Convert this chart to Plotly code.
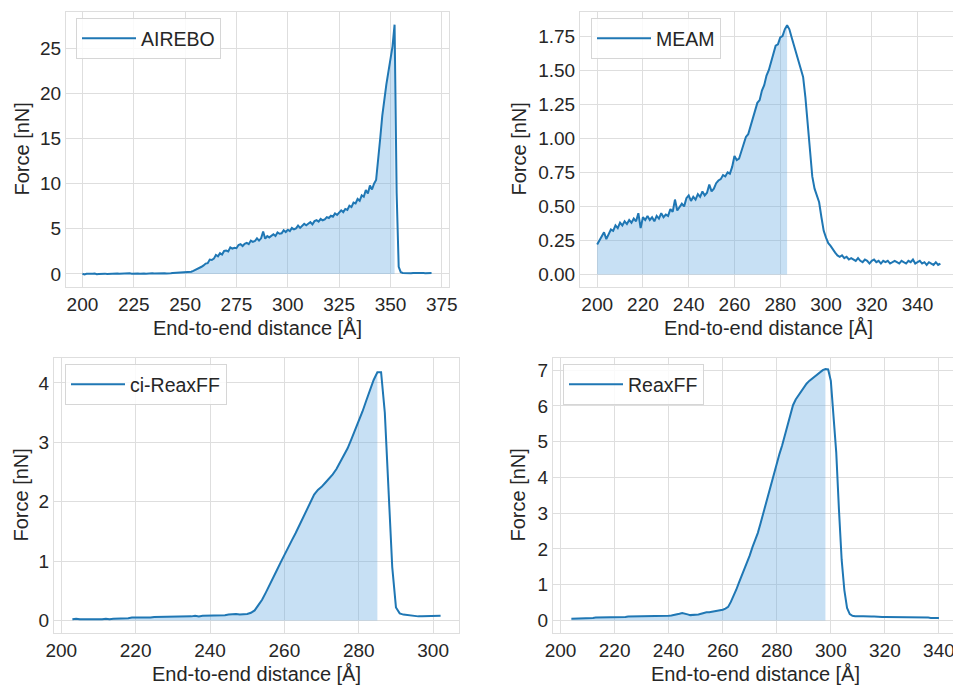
import numpy as np
import plotly.graph_objects as go

# ---------------- data (force in nN, one sample per Å) ----------------
AIREBO_X0 = 200
AIREBO_F = [
    0.02, -0.05, 0.03, 0.00, -0.03, 0.02, 0.05, -0.02, 0.01, 0.03,   # 200
    -0.01, 0.04, 0.00, 0.02, 0.05, 0.01, 0.03, 0.06, 0.02, 0.04,     # 210
    0.01, 0.05, 0.03, 0.07, 0.02, 0.05, 0.04, 0.06, 0.03, 0.08,      # 220
    0.05, 0.04, 0.07, 0.05, 0.09, 0.06, 0.08, 0.05, 0.10, 0.07,      # 230
    0.09, 0.06, 0.11, 0.08, 0.10, 0.12, 0.09, 0.13, 0.11, 0.14,      # 240
    0.15, 0.18, 0.22, 0.25, 0.35, 0.45, 0.55, 0.65, 0.80, 0.95,      # 250
    1.15, 1.20, 1.60, 1.55, 1.70, 2.10, 1.95, 2.30, 2.15, 2.55,      # 260
    2.60, 2.50, 2.95, 2.80, 2.90, 2.85, 3.20, 3.30, 3.10, 3.35,      # 270
    3.45, 3.30, 3.70, 3.55, 3.65, 3.95, 3.70, 3.95, 4.70, 3.90,      # 280
    4.20, 4.05, 4.25, 4.40, 4.20, 4.60, 4.45, 4.50, 4.85, 4.65,      # 290
    4.90, 4.75, 5.10, 4.95, 5.05, 5.35, 5.10, 5.30, 5.55, 5.40,      # 300
    5.55, 5.75, 5.50, 5.85, 5.95, 5.80, 6.10, 5.95, 6.05, 6.30,      # 310
    6.20, 6.45, 6.35, 6.70, 6.55, 6.75, 7.05, 6.85, 7.20, 7.10,      # 320
    7.55, 7.40, 7.90, 7.80, 8.30, 8.10, 8.70, 8.55, 9.30, 8.90,      # 330
    9.80, 9.35, 10.0, 10.4, 12.5, 15.0, 17.5, 19.6, 21.0, 22.4,      # 340
    23.8, 25.2, 27.6, 9.0, 0.8, 0.20, 0.12, 0.10, 0.08, 0.12,        # 350
    0.09, 0.11, 0.07, 0.10, 0.12, 0.08, 0.10, 0.09, 0.11, 0.10,      # 360
    0.12,                                                            # 370
]
AIREBO_FILL_END = 352

MEAM_X0 = 200
MEAM_F = [
    0.22, 0.25, 0.29, 0.31, 0.26, 0.30, 0.33, 0.32, 0.36, 0.34,      # 200
    0.38, 0.36, 0.39, 0.37, 0.40, 0.38, 0.41, 0.39, 0.45, 0.34,      # 210
    0.42, 0.40, 0.43, 0.40, 0.42, 0.39, 0.43, 0.41, 0.45, 0.42,      # 220
    0.44, 0.43, 0.48, 0.46, 0.55, 0.47, 0.50, 0.52, 0.50, 0.56,      # 230
    0.58, 0.54, 0.57, 0.55, 0.59, 0.57, 0.61, 0.58, 0.60, 0.66,      # 240
    0.61, 0.63, 0.67, 0.69, 0.70, 0.73, 0.72, 0.75, 0.74, 0.79,      # 250
    0.87, 0.84, 0.85, 0.91, 0.95, 1.01, 1.03, 1.09, 1.16, 1.20,      # 260
    1.26, 1.28, 1.35, 1.39, 1.46, 1.50, 1.56, 1.61, 1.68, 1.69,      # 270
    1.74, 1.75, 1.80, 1.83, 1.80, 1.74, 1.68, 1.63, 1.58, 1.51,      # 280
    1.45, 1.30, 1.12, 0.90, 0.72, 0.63, 0.58, 0.53, 0.42, 0.32,      # 290
    0.27, 0.23, 0.21, 0.18, 0.16, 0.14, 0.13, 0.14, 0.12, 0.13,      # 300
    0.11, 0.12, 0.11, 0.10, 0.12, 0.10, 0.09, 0.11, 0.10, 0.08,      # 310
    0.10, 0.11, 0.09, 0.10, 0.08, 0.10, 0.09, 0.10, 0.08, 0.09,      # 320
    0.10, 0.09, 0.08, 0.10, 0.09, 0.08, 0.10, 0.09, 0.11, 0.08,      # 330
    0.09, 0.10, 0.08, 0.09, 0.07, 0.09, 0.08, 0.07, 0.09, 0.07,      # 340
    0.08,                                                            # 350
]
MEAM_FILL_END = 283

CIREAX_X0 = 203
CIREAX_F = [
    0.02, 0.03, 0.02, 0.02, 0.01, 0.02, 0.01,                        # 203
    0.02, 0.02, 0.03, 0.02, 0.03, 0.03, 0.04, 0.03, 0.04, 0.05,      # 210
    0.05, 0.04, 0.04, 0.05, 0.05, 0.06, 0.06, 0.07, 0.06, 0.07,      # 220
    0.07, 0.07, 0.06, 0.07, 0.07, 0.07, 0.08, 0.07, 0.08, 0.08,      # 230
    0.08, 0.08, 0.09, 0.09, 0.09, 0.10, 0.11, 0.11, 0.10, 0.10,      # 240
    0.11, 0.13, 0.17, 0.26, 0.35, 0.47, 0.59, 0.72, 0.85, 0.98,      # 250
    1.11, 1.23, 1.35, 1.47, 1.60, 1.73, 1.88, 2.00, 2.12, 2.20,      # 260
    2.25, 2.32, 2.39, 2.46, 2.55, 2.66, 2.78, 2.90, 3.05, 3.20,      # 270
    3.35, 3.52, 3.70, 3.87, 4.05, 4.18, 4.18, 3.50, 2.20, 0.90,      # 280
    0.22, 0.12, 0.10, 0.09, 0.08, 0.08, 0.07, 0.07, 0.07, 0.08,      # 290
    0.07, 0.08, 0.08,                                                # 300
]
CIREAX_FILL_END = 285

REAX_X0 = 204
REAX_F = [
    0.05, 0.05, 0.06, 0.05, 0.06, 0.06,                              # 204
    0.06, 0.07, 0.07, 0.08, 0.08, 0.09, 0.09, 0.10, 0.10, 0.10,      # 210
    0.10, 0.09, 0.08, 0.09, 0.10, 0.11, 0.11, 0.12, 0.13, 0.12,      # 220
    0.12, 0.13, 0.12, 0.12, 0.13, 0.12, 0.12, 0.12, 0.13, 0.13,      # 230
    0.13, 0.14, 0.15, 0.16, 0.19, 0.21, 0.20, 0.17, 0.15, 0.15,      # 240
    0.16, 0.17, 0.19, 0.22, 0.23, 0.23, 0.24, 0.25, 0.26, 0.28,      # 250
    0.30, 0.33, 0.38, 0.52, 0.68, 0.86, 1.06, 1.25, 1.43, 1.60,      # 260
    1.82, 2.05, 2.24, 2.45, 2.72, 3.00, 3.28, 3.58, 3.88, 4.15,      # 270
    4.40, 4.66, 4.90, 5.18, 5.48, 5.78, 6.02, 6.18, 6.29, 6.42,      # 280
    6.53, 6.62, 6.70, 6.76, 6.82, 6.88, 6.95, 7.00, 7.03, 7.02,      # 290
    6.70, 5.80, 4.70, 3.10, 1.70, 0.85, 0.35, 0.18, 0.13, 0.12,      # 300
    0.11, 0.12, 0.12, 0.11, 0.12, 0.11, 0.11, 0.10, 0.10, 0.10,      # 310
    0.10, 0.10, 0.10, 0.09, 0.10, 0.09, 0.09, 0.10, 0.09, 0.09,      # 320
    0.09, 0.08, 0.09, 0.08, 0.08, 0.08, 0.08, 0.07, 0.08, 0.07,      # 330
    0.07,                                                            # 340
]
REAX_FILL_END = 298

LABELS = ["AIREBO", "MEAM", "ci-ReaxFF", "ReaxFF"]
X_TITLE = "End-to-end distance [Å]"
Y_TITLE = "Force [nN]"

# ---------------- styling / layout ----------------
W, H = 953, 686
FONT = "Liberation Sans, Arial, sans-serif"
TXT = "#262626"
GRID = "#dedede"
LINE = "#1f77b4"
FILL = "rgba(100,170,225,0.36)"


def px_x(p):
    return p / W


def px_y(p):
    return 1 - p / H


panels = [
    dict(x0=AIREBO_X0, f=AIREBO_F, fe=AIREBO_FILL_END, box=(66, 449, 12, 287),
         xr=[192.0, 378.5], yr=[-1.44, 29.0], xt=list(range(200, 376, 25)),
         yt=list(range(0, 26, 5)), fmt="d"),
    dict(x0=MEAM_X0, f=MEAM_F, fe=MEAM_FILL_END, box=(580, 953, 12, 287),
         xr=[192.5, 355.5], yr=[-0.092, 1.927], xt=list(range(200, 341, 20)),
         yt=[0, 0.25, 0.5, 0.75, 1.0, 1.25, 1.5, 1.75], fmt=".2f"),
    dict(x0=CIREAX_X0, f=CIREAX_F, fe=CIREAX_FILL_END, box=(54, 459, 358, 633),
         xr=[198.05, 306.95], yr=[-0.21, 4.42], xt=list(range(200, 301, 20)),
         yt=list(range(0, 5)), fmt="d"),
    dict(x0=REAX_X0, f=REAX_F, fe=REAX_FILL_END, box=(553, 953, 358, 633),
         xr=[197.2, 345.2], yr=[-0.35, 7.34], xt=list(range(200, 341, 20)),
         yt=list(range(0, 8)), fmt="d"),
]
legend_pos = [(76, 18), (591, 18), (65, 364), (563, 364)]
xtitle_cx = [257.5, 768.5, 256.5, 755]
ytitle_x = [21, 518, 21, 518]

fig = go.Figure()
layout = dict(
    width=W, height=H, margin=dict(l=0, r=0, t=0, b=0),
    paper_bgcolor="white", plot_bgcolor="white",
    font=dict(family=FONT, color=TXT, size=19),
    showlegend=True, annotations=[],
)

for i, p in enumerate(panels):
    n = i + 1
    xs = "" if n == 1 else str(n)
    x = p["x0"] + np.arange(len(p["f"]))
    y = np.array(p["f"])
    mask = x <= p["fe"]
    leg = "legend" if n == 1 else f"legend{n}"
    fig.add_trace(go.Scatter(
        x=x[mask], y=y[mask], mode="lines", fill="tozeroy",
        fillcolor=FILL, line=dict(width=0, color=FILL),
        showlegend=False, hoverinfo="skip", xaxis="x" + xs, yaxis="y" + xs))
    fig.add_trace(go.Scatter(
        x=x, y=y, mode="lines", name=LABELS[i],
        line=dict(color=LINE, width=2), legend=leg,
        xaxis="x" + xs, yaxis="y" + xs))

    l, r, t, b = p["box"]
    layout["xaxis" + xs] = dict(
        domain=[px_x(l), px_x(r)], anchor="y" + xs, range=p["xr"],
        tickvals=p["xt"], showgrid=True, gridcolor=GRID, gridwidth=1,
        zeroline=False, showline=True, linecolor=GRID, linewidth=1, mirror=True,
        ticks="", tickfont=dict(size=19, color=TXT), automargin=False,
        ticklabeloverflow="allow",
    )
    layout["yaxis" + xs] = dict(
        domain=[px_y(b), px_y(t)], anchor="x" + xs, range=p["yr"],
        tickvals=p["yt"], tickformat=p["fmt"], showgrid=True, gridcolor=GRID,
        gridwidth=1, zeroline=False, showline=True, linecolor=GRID, linewidth=1,
        mirror=True, ticks="", tickfont=dict(size=19, color=TXT), automargin=False,
        ticklabeloverflow="allow",
    )
    lx, ly = legend_pos[i]
    layout[leg] = dict(
        x=px_x(lx), y=px_y(ly), xanchor="left", yanchor="top",
        bgcolor="rgba(255,255,255,0.85)", bordercolor="#d6d6d6", borderwidth=1,
        itemwidth=54,
        font=dict(size=19.5, color=TXT, family=FONT),
    )
    layout["annotations"].append(dict(
        text=X_TITLE, xref="paper", yref="paper",
        x=px_x(xtitle_cx[i]), y=px_y(b + 41), xanchor="center", yanchor="middle",
        showarrow=False, font=dict(size=20, color=TXT, family=FONT)))
    layout["annotations"].append(dict(
        text=Y_TITLE, xref="paper", yref="paper", textangle=-90,
        x=px_x(ytitle_x[i]), y=px_y((t + b) / 2), xanchor="center", yanchor="middle",
        showarrow=False, font=dict(size=20, color=TXT, family=FONT)))

fig.update_layout(**layout)
fig.write_html(
    "out.html",
    config={"displayModeBar": False},
    post_script="document.body.style.margin='0';document.body.style.overflow='hidden';",
)
